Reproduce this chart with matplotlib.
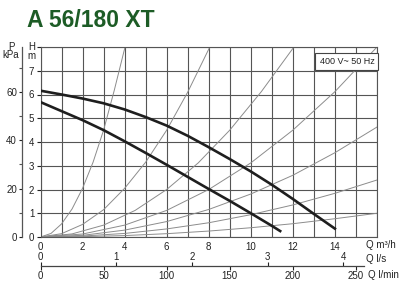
import matplotlib
matplotlib.use('Agg')
import matplotlib.pyplot as plt
import numpy as np

plt.rcParams['font.family'] = ['Liberation Sans', 'DejaVu Sans']

# ---------------- data ----------------
title = "A 56/180 XT"
supply_label = "400 V~ 50 Hz"

q_major = [0, 2, 4, 6, 8, 10, 12, 14, 16]
q_major_labels = ['0', '2', '4', '6', '8', '10', '12', '14', '']
q_minor = [1, 3, 5, 7, 9, 11, 13, 15]
h_ticks = [0, 1, 2, 3, 4, 5, 6, 7, 8]
h_labels = ['0', '1', '2', '3', '4', '5', '6', '7', '']
p_ticks = [0, 20, 40, 60]
p_minor = [10, 30, 50, 70]
ls_ticks = [0, 1, 2, 3, 4]
lmin_ticks = [0, 50, 100, 150, 200, 250]

# pump curves (Q m3/h, H m)
pump_hi_q = [0, 1, 2, 3, 4, 5, 6, 7, 8, 9, 10, 11, 12, 13, 14.05]
pump_hi_h = [6.16, 6.0, 5.83, 5.63, 5.37, 5.05, 4.69, 4.26, 3.78, 3.28, 2.76, 2.2, 1.6, 0.97, 0.32]
pump_lo_q = [0, 1, 2, 3, 4, 5, 6, 7, 8, 9, 10, 11, 11.45]
pump_lo_h = [5.68, 5.3, 4.92, 4.5, 4.03, 3.54, 3.04, 2.53, 2.02, 1.52, 1.0, 0.47, 0.22]

# system curves (thin grey)
sys1_q = [0, 0.5, 1, 1.5, 2, 2.5, 3, 3.5, 4.02]
sys1_h = [0, 0.15, 0.55, 1.18, 2.05, 3.15, 4.5, 6.15, 8.0]
sys2_q = [0, 1, 2, 3, 4, 5, 6, 7, 8.05]
sys2_h = [0, 0.14, 0.53, 1.15, 2.05, 3.15, 4.5, 6.1, 8.0]
sys3_q = [0, 1.5, 3, 4.5, 6, 7.5, 9, 10.5, 12.05]
sys3_h = [0, 0.13, 0.5, 1.12, 2.0, 3.12, 4.5, 6.12, 8.0]
sys4_q = [0, 2, 4, 6, 8, 10, 12, 14, 16]
sys4_h = [0, 0.125, 0.5, 1.12, 2.0, 3.12, 4.5, 6.12, 8.0]
sys5_q = [0, 2, 4, 6, 8, 10, 12, 14, 16]
sys5_h = [0, 0.07, 0.29, 0.65, 1.16, 1.81, 2.6, 3.55, 4.63]
sys6_q = [0, 2, 4, 6, 8, 10, 12, 14, 16]
sys6_h = [0, 0.04, 0.15, 0.34, 0.6, 0.94, 1.35, 1.84, 2.4]
sys7_q = [0, 2, 4, 6, 8, 10, 12, 14, 16]
sys7_h = [0, 0.015, 0.06, 0.14, 0.25, 0.39, 0.56, 0.77, 1.0]

system_curves = [(sys1_q, sys1_h), (sys2_q, sys2_h), (sys3_q, sys3_h),
                 (sys4_q, sys4_h), (sys5_q, sys5_h), (sys6_q, sys6_h),
                 (sys7_q, sys7_h)]

# ---------------- figure ----------------
W, H = 400, 290
fig = plt.figure(figsize=(W / 100, H / 100), dpi=100)


def fx(x):
    return x / W


def fy(y):
    return 1 - y / H


left_px, right_px, top_px, bot_px = 40.5, 377, 47, 237
ax = fig.add_axes([fx(left_px), fy(bot_px), (right_px - left_px) / W, (bot_px - top_px) / H])
ax.set_xlim(0, 16)
ax.set_ylim(0, 8)

grid_c = '#555555'
ax.set_xticks(q_major)
ax.set_xticklabels(q_major_labels)
ax.set_xticks(q_minor, minor=True)
ax.set_yticks(h_ticks)
ax.set_yticklabels(h_labels)
ax.grid(True, which='both', color=grid_c, lw=0.8)
ax.set_axisbelow(True)
for s in ax.spines.values():
    s.set_color(grid_c)
    s.set_linewidth(0.8)
ax.tick_params(axis='x', which='both', length=0, pad=3.5, labelsize=7, colors='#222222')
ax.tick_params(axis='y', which='both', length=3, width=0.8, pad=1.5, labelsize=7,
               colors='#222222')
ax.tick_params(axis='x', which='minor', length=0)

for q, h in system_curves:
    ax.plot(q, h, color='#8c8c8c', lw=0.7, clip_on=True, zorder=2)

ax.plot(pump_hi_q, pump_hi_h, color='#1e1e1e', lw=1.9, solid_capstyle='butt',
        solid_joinstyle='round', zorder=3)
ax.plot(pump_lo_q, pump_lo_h, color='#1e1e1e', lw=1.9, solid_capstyle='butt',
        solid_joinstyle='round', zorder=3)

ax.text(14.57, 7.4, supply_label, ha='center', va='center', fontsize=6.5, color='#222222',
        zorder=5,
        bbox=dict(boxstyle='square,pad=0.45', fc='white', ec='#444444', lw=0.8))

# pressure axis (kPa)
axp = ax.twinx()
axp.set_ylim(0, 8 * 9.81)
axp.yaxis.set_ticks_position('left')
axp.yaxis.set_label_position('left')
axp.spines['left'].set_position(('outward', 13.5))
axp.spines['left'].set_visible(True)
axp.spines['left'].set_color('#555555')
axp.spines['left'].set_linewidth(0.9)
for k in ['right', 'top', 'bottom']:
    axp.spines[k].set_visible(False)
axp.set_yticks(p_ticks)
axp.set_yticks(p_minor, minor=True)
axp.tick_params(axis='y', which='major', length=2.5, width=0.8, pad=1, labelsize=7,
                colors='#222222')
axp.tick_params(axis='y', which='minor', length=2.5, width=0.8, colors='#555555')


# flow axes in l/s and l/min
def m3h_to_ls(q):
    return np.asarray(q) / 3.6


def ls_to_m3h(s):
    return np.asarray(s) * 3.6


def m3h_to_lmin(q):
    return np.asarray(q) * 1000.0 / 60.0


def lmin_to_m3h(v):
    return np.asarray(v) * 60.0 / 1000.0


loc = (bot_px - 266) / (bot_px - top_px)
sec_ls = ax.secondary_xaxis(loc, functions=(m3h_to_ls, ls_to_m3h))
sec_ls.set_alignment('top')
sec_ls.set_xticks(ls_ticks)
sec_ls.tick_params(length=3, width=0.8, pad=0, labelsize=7, colors='#222222')
for s in sec_ls.spines.values():
    s.set_visible(False)

sec_lm = ax.secondary_xaxis(loc, functions=(m3h_to_lmin, lmin_to_m3h))
sec_lm.set_xticks(lmin_ticks)
sec_lm.tick_params(length=3, width=0.8, pad=0.5, labelsize=7, colors='#222222')
sec_lm.spines['bottom'].set_bounds(0, 256)
sec_lm.spines['bottom'].set_color('#444444')
sec_lm.spines['bottom'].set_linewidth(0.9)

# axis captions
fig.text(fx(366), fy(245), 'Q m³/h', ha='left', va='center', fontsize=7, color='#222222')
fig.text(fx(366.5), fy(259), 'Q l/s', ha='left', va='center', fontsize=7, color='#222222')
fig.text(fx(368), fy(275.5), 'Q l/min', ha='left', va='center', fontsize=7, color='#222222')
fig.text(fx(31.7), fy(46.5), 'H', ha='center', va='center', fontsize=7, color='#222222')
fig.text(fx(31.7), fy(56), 'm', ha='center', va='center', fontsize=7, color='#222222')
fig.text(fx(11), fy(46.5), 'P', ha='center', va='center', fontsize=7, color='#222222')
fig.text(fx(11), fy(55.5), 'kPa', ha='center', va='center', fontsize=7, color='#222222')

fig.text(fx(27), fy(20.5), title, ha='left', va='center', fontsize=16.5,
         fontweight='bold', color='#1d5c26')

fig.savefig('out.png', dpi=100)
